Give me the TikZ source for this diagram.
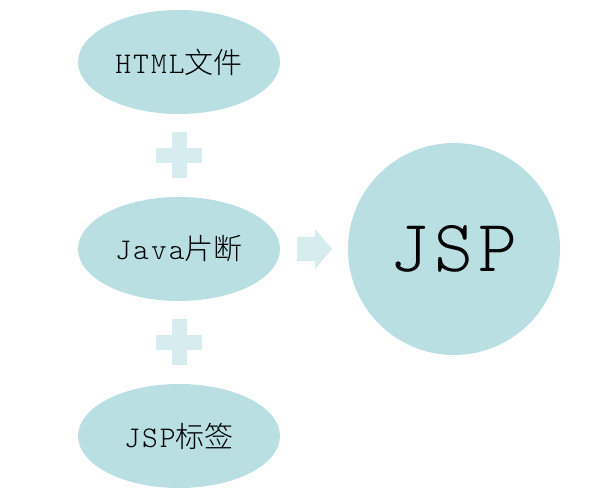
\documentclass[tikz,border=0pt]{standalone}
\usepackage{fontspec}
\newfontfamily\codefont{Latin Modern Mono Light}[LetterSpace=7]
\newfontfamily\cjkfont{Noto Sans CJK SC Light}
\usetikzlibrary{shapes.geometric,calc}
\definecolor{bubble}{HTML}{BADFE3}
\definecolor{signcol}{HTML}{D6ECEE}

\begin{document}
\begin{tikzpicture}[x=1pt,y=1pt,
	part/.style={ellipse,fill=bubble,minimum width=202pt,minimum height=104pt,inner sep=0pt,
		font=\codefont\fontsize{30}{30}\selectfont},
	whole/.style={circle,fill=bubble,minimum size=212pt,inner sep=0pt,
		font=\codefont\fontsize{74}{74}\selectfont},
	plus sign/.pic={
		\fill[signcol] (-23,-7.5) rectangle (23,7.5);
		\fill[signcol] (-7.5,-23) rectangle (7.5,23);
	}]
	\useasboundingbox (0,0) rectangle (592,500);
	% the three parts
	\node[part] (html) at (179,438) {HTML{\cjkfont\fontsize{29}{29}\selectfont 文件}};
	\node[part] (java) at (179,251) {Java{\cjkfont\fontsize{29}{29}\selectfont 片断}};
	\node[part] (tag) at (179,64) {JSP{\cjkfont\fontsize{29}{29}\selectfont 标签}};
	% result
	\node[whole] (jsp) at (454,251) {JSP};
	% signs between them
	\pic at ($(html)!0.5!(java)$) {plus sign};
	\pic at ($(java)!0.5!(tag)$) {plus sign};
	\coordinate (gap) at ($(java.east)!0.5!(jsp.west)$);
	\begin{scope}[shift={(gap)}]
		\fill[signcol] (-17,-12) -- (1,-12) -- (1,-20) -- (18,0) -- (1,20) -- (1,12) -- (-17,12) -- cycle;
	\end{scope}
\end{tikzpicture}
\end{document}
